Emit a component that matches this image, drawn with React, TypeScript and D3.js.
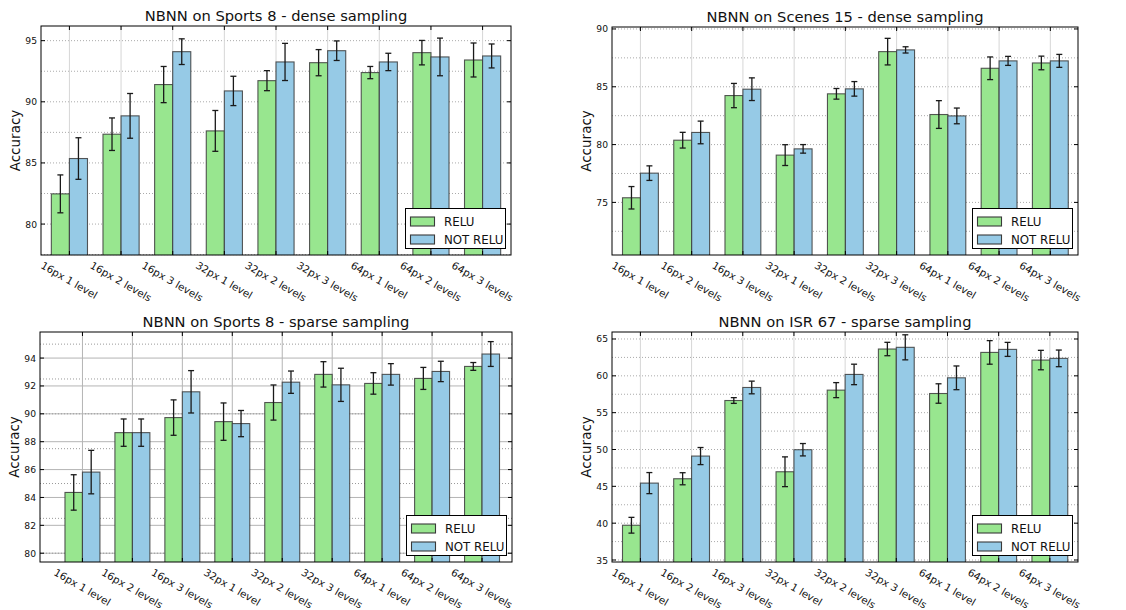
import { useEffect, useRef } from "react";
import * as d3 from "d3";

const categories = [
  "16px 1 level", "16px 2 levels", "16px 3 levels",
  "32px 1 level", "32px 2 levels", "32px 3 levels",
  "64px 1 level", "64px 2 levels", "64px 3 levels",
];
const seriesNames = ["RELU", "NOT RELU"];

const sportsDenseRelu = [82.47, 87.35, 91.41, 87.62, 91.73, 93.2, 92.39, 94.02, 93.42];
const sportsDenseReluErr = [1.55, 1.33, 1.48, 1.67, 0.82, 1.07, 0.5, 1.0, 1.39];
const sportsDenseNot = [85.36, 88.85, 94.1, 90.89, 93.26, 94.18, 93.26, 93.67, 93.75];
const sportsDenseNotErr = [1.7, 1.83, 1.05, 1.2, 1.52, 0.8, 0.71, 1.54, 0.98];

const scenesDenseRelu = [75.4, 80.38, 84.24, 79.09, 84.39, 88.04, 82.6, 86.6, 87.06];
const scenesDenseReluErr = [0.97, 0.68, 1.05, 0.9, 0.46, 1.15, 1.2, 0.98, 0.59];
const scenesDenseNot = [77.53, 81.05, 84.79, 79.63, 84.82, 88.19, 82.48, 87.24, 87.24];
const scenesDenseNotErr = [0.63, 0.98, 0.98, 0.37, 0.63, 0.27, 0.68, 0.39, 0.56];

const sportsSparseRelu = [84.36, 88.65, 89.73, 89.44, 90.81, 92.83, 92.18, 92.54, 93.4];
const sportsSparseReluErr = [1.27, 0.98, 1.27, 1.34, 1.26, 0.91, 0.77, 0.79, 0.28];
const sportsSparseNot = [85.82, 88.65, 91.58, 89.3, 92.27, 92.08, 92.83, 93.04, 94.29];
const sportsSparseNotErr = [1.56, 0.98, 1.52, 0.94, 0.8, 1.19, 0.77, 0.73, 0.89];

const isrSparseRelu = [39.72, 46.03, 56.65, 46.98, 58.06, 63.64, 57.6, 63.18, 62.14];
const isrSparseReluErr = [1.07, 0.82, 0.39, 2.02, 1.02, 0.91, 1.32, 1.6, 1.32];
const isrSparseNot = [45.44, 49.11, 58.42, 49.97, 60.19, 63.87, 59.73, 63.59, 62.37];
const isrSparseNotErr = [1.43, 1.16, 0.86, 0.84, 1.39, 1.7, 1.61, 0.95, 1.13];

const sportsDenseTicks = [80, 85, 90, 95];
const scenesDenseTicks = [75, 80, 85, 90];
const sportsSparseTicks = [80, 82, 84, 86, 88, 90, 92, 94];
const isrSparseTicks = [35, 40, 45, 50, 55, 60, 65];

const GREEN = "#98e68f";
const BLUE = "#96cae6";
const FONT = "DejaVu Sans, sans-serif";

type Panel = {
  id: string;
  title: string;
  left: number; right: number; top: number; bottom: number;
  xDomain: [number, number];
  yDomain: [number, number];
  yTicks: number[];
  relu: number[]; reluErr: number[];
  not: number[]; notErr: number[];
  heavyGrid: boolean;
};

const panels: Panel[] = [
  {
    id: "p1", title: "NBNN on Sports 8 - dense sampling",
    left: 41, right: 511, top: 26, bottom: 255,
    xDomain: [-0.55, 8.55], yDomain: [77.47, 96.2], yTicks: sportsDenseTicks,
    relu: sportsDenseRelu, reluErr: sportsDenseReluErr,
    not: sportsDenseNot, notErr: sportsDenseNotErr, heavyGrid: false,
  },
  {
    id: "p2", title: "NBNN on Scenes 15 - dense sampling",
    left: 612, right: 1078, top: 27, bottom: 255,
    xDomain: [-0.555, 8.54], yDomain: [70.45, 90.17], yTicks: scenesDenseTicks,
    relu: scenesDenseRelu, reluErr: scenesDenseReluErr,
    not: scenesDenseNot, notErr: scenesDenseNotErr, heavyGrid: false,
  },
  {
    id: "p3", title: "NBNN on Sports 8 - sparse sampling",
    left: 40, right: 512, top: 332, bottom: 562,
    xDomain: [-0.85, 8.6], yDomain: [79.37, 95.87], yTicks: sportsSparseTicks,
    relu: sportsSparseRelu, reluErr: sportsSparseReluErr,
    not: sportsSparseNot, notErr: sportsSparseNotErr, heavyGrid: true,
  },
  {
    id: "p4", title: "NBNN on ISR 67 - sparse sampling",
    left: 612, right: 1078, top: 332, bottom: 562,
    xDomain: [-0.555, 8.55], yDomain: [34.73, 65.95], yTicks: isrSparseTicks,
    relu: isrSparseRelu, reluErr: isrSparseReluErr,
    not: isrSparseNot, notErr: isrSparseNotErr, heavyGrid: false,
  },
];

const barWidth = 0.35;

function drawPanel(root: d3.Selection<SVGSVGElement, unknown, null, undefined>, p: Panel) {
  const x = d3.scaleLinear().domain(p.xDomain).range([p.left, p.right]);
  const y = d3.scaleLinear().domain(p.yDomain).range([p.bottom, p.top]);
  const idx = d3.range(categories.length);
  const g = root.append("g");

  g.append("clipPath").attr("id", "clip-" + p.id)
    .append("rect")
    .attr("x", p.left).attr("y", p.top)
    .attr("width", p.right - p.left).attr("height", p.bottom - p.top);

  // grid
  const minor = d3.range(Math.ceil(p.yDomain[0] / 2.5) * 2.5, p.yDomain[1], 2.5);
  if (p.heavyGrid) {
    g.selectAll(".hgrid").data(p.yTicks).enter().append("line")
      .attr("x1", p.left).attr("x2", p.right)
      .attr("y1", (d) => y(d)).attr("y2", (d) => y(d))
      .attr("stroke", "#b4b4b4").attr("stroke-width", 1);
  }
  g.selectAll(".dgrid").data(minor).enter().append("line")
    .attr("x1", p.left).attr("x2", p.right)
    .attr("y1", (d) => y(d)).attr("y2", (d) => y(d))
    .attr("stroke", p.heavyGrid ? "#999" : "#aaa").attr("stroke-width", 1)
    .attr("stroke-dasharray", "1,2");
  g.selectAll(".vgrid").data(idx).enter().append("line")
    .attr("x1", (d) => x(d)).attr("x2", (d) => x(d))
    .attr("y1", p.top).attr("y2", p.bottom)
    .attr("stroke", p.heavyGrid ? "#b4b4b4" : "#d6d6d6").attr("stroke-width", 1);

  // bars
  const bars = g.append("g").attr("clip-path", `url(#clip-${p.id})`);
  const series = [
    { vals: p.relu, errs: p.reluErr, color: GREEN, off: -barWidth },
    { vals: p.not, errs: p.notErr, color: BLUE, off: 0 },
  ];
  series.forEach((s) => {
    bars.selectAll(null).data(idx).enter().append("rect")
      .attr("x", (i) => x(i + s.off))
      .attr("width", x(barWidth) - x(0))
      .attr("y", (i) => y(s.vals[i]))
      .attr("height", (i) => p.bottom + 5 - y(s.vals[i]))
      .attr("fill", s.color)
      .attr("stroke", "#3a3a3a").attr("stroke-opacity", 0.85).attr("stroke-width", 1.1);
  });
  series.forEach((s) => {
    const cx = (i: number) => x(i + s.off + barWidth / 2);
    const eb = bars.selectAll(null).data(idx).enter().append("g")
      .attr("stroke", "#1a1a1a").attr("stroke-width", 1.3);
    eb.append("line")
      .attr("x1", cx).attr("x2", cx)
      .attr("y1", (i) => y(s.vals[i] - s.errs[i]))
      .attr("y2", (i) => y(s.vals[i] + s.errs[i]));
    [-1, 1].forEach((sg) => {
      eb.append("line")
        .attr("x1", (i) => cx(i) - 3).attr("x2", (i) => cx(i) + 3)
        .attr("y1", (i) => y(s.vals[i] + sg * s.errs[i]))
        .attr("y2", (i) => y(s.vals[i] + sg * s.errs[i]));
    });
  });

  // frame
  g.append("rect")
    .attr("x", p.left).attr("y", p.top)
    .attr("width", p.right - p.left).attr("height", p.bottom - p.top)
    .attr("fill", "none").attr("stroke", "#000").attr("stroke-width", 1);

  // ticks
  const tk = 4;
  p.yTicks.forEach((t) => {
    g.append("line").attr("x1", p.left).attr("x2", p.left + tk)
      .attr("y1", y(t)).attr("y2", y(t)).attr("stroke", "#000");
    g.append("line").attr("x1", p.right - tk).attr("x2", p.right)
      .attr("y1", y(t)).attr("y2", y(t)).attr("stroke", "#000");
  });
  idx.forEach((i) => {
    g.append("line").attr("x1", x(i)).attr("x2", x(i))
      .attr("y1", p.top).attr("y2", p.top + tk).attr("stroke", "#000");
    g.append("line").attr("x1", x(i)).attr("x2", x(i))
      .attr("y1", p.bottom - tk).attr("y2", p.bottom).attr("stroke", "#000");
  });

  // y tick labels
  g.selectAll(".ylab").data(p.yTicks).enter().append("text")
    .attr("x", p.left - 4).attr("y", (d) => y(d))
    .attr("text-anchor", "end").attr("dominant-baseline", "central")
    .style("font-family", FONT).style("font-size", "9.2px").attr("fill", "#111")
    .text((d) => d);

  // x tick labels rotated 30deg, bbox top aligned below axis
  const fs = 10.3;
  const ang = Math.PI / 6;
  idx.forEach((i) => {
    const t = g.append("text")
      .attr("text-anchor", "middle").attr("dominant-baseline", "central")
      .style("font-family", FONT).style("font-size", fs + "px").attr("fill", "#111")
      .text(categories[i]);
    const L = (t.node() as SVGTextElement).getComputedTextLength();
    const H = L * Math.sin(ang) + fs * 1.15 * Math.cos(ang);
    t.attr("transform", `translate(${x(i)},${p.bottom + 4 + H / 2}) rotate(30)`);
  });

  // axis label
  g.append("text")
    .attr("transform", `translate(${p.left - 26},${(p.top + p.bottom) / 2}) rotate(-90)`)
    .attr("text-anchor", "middle").attr("dominant-baseline", "central")
    .style("font-family", FONT).style("font-size", "13.5px").attr("fill", "#111")
    .text("Accuracy");

  // title
  g.append("text")
    .attr("x", (p.left + p.right) / 2).attr("y", p.top - 5)
    .attr("text-anchor", "middle")
    .style("font-family", FONT).style("font-size", "14.7px").attr("fill", "#111")
    .text(p.title);

  // legend
  const lw = 100, lh = 40;
  const lx = p.right - 5.5 - lw, ly = p.bottom - 6.5 - lh;
  const lg = g.append("g");
  lg.append("rect").attr("x", lx).attr("y", ly).attr("width", lw).attr("height", lh)
    .attr("fill", "#fff").attr("stroke", "#000").attr("stroke-width", 1);
  [GREEN, BLUE].forEach((c, k) => {
    const cy = ly + 13 + k * 18;
    lg.append("rect").attr("x", lx + 5).attr("y", cy - 4.5).attr("width", 24).attr("height", 9)
      .attr("fill", c).attr("stroke", "#3a3a3a").attr("stroke-width", 1.1);
    lg.append("text").attr("x", lx + 38.5).attr("y", cy)
      .attr("dominant-baseline", "central")
      .style("font-family", FONT).style("font-size", "11.8px").attr("fill", "#111")
      .text(seriesNames[k]);
  });
}

export default function App() {
  const ref = useRef<SVGSVGElement>(null);
  useEffect(() => {
    const svg = d3.select(ref.current as SVGSVGElement);
    svg.selectAll("*").remove();
    panels.forEach((p) => drawPanel(svg, p));
  }, []);
  return (
    <svg
      ref={ref}
      width={1126}
      height={610}
      style={{ position: "absolute", left: 0, top: 0, background: "#fff" }}
    />
  );
}
